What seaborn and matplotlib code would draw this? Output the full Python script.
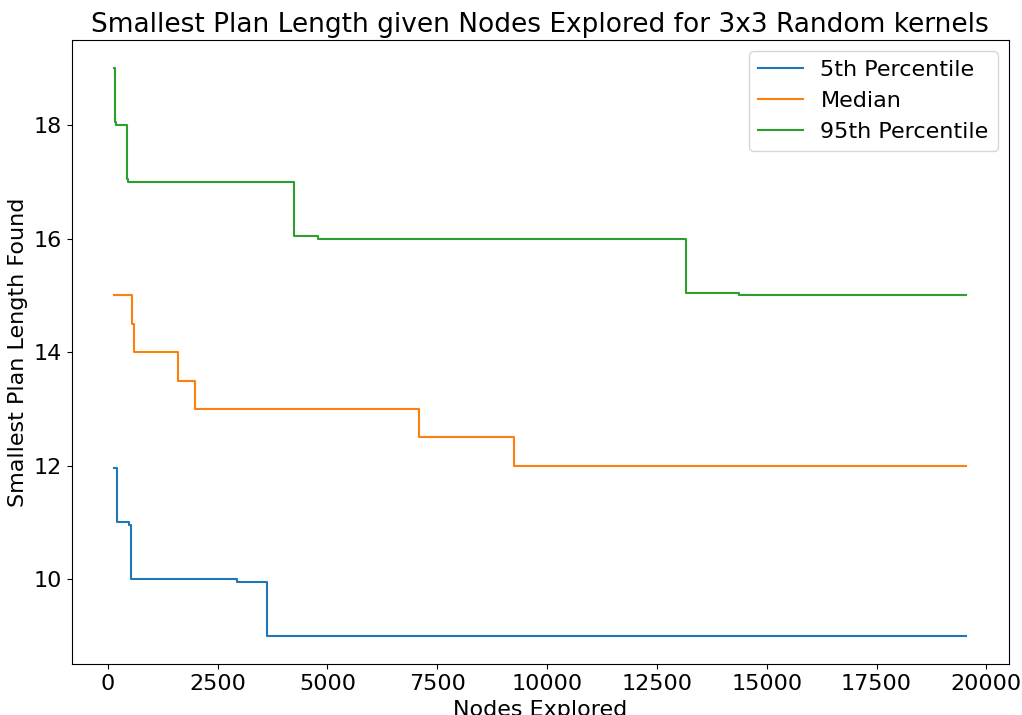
import matplotlib
matplotlib.use("Agg")
import matplotlib.pyplot as plt
import seaborn as sns
import pandas as pd

series_names = ["5th Percentile", "Median", "95th Percentile"]

p5_nodes = [145, 205, 493, 523, 2947, 3636, 19540]
p5_length = [11.95, 11.0, 10.95, 10.0, 9.95, 9.0, 9.0]

median_nodes = [145, 561, 591, 1598, 1977, 7091, 9257, 19540]
median_length = [15.0, 14.5, 14.0, 13.5, 13.0, 12.5, 12.0, 12.0]

p95_nodes = [150, 172, 190, 447, 470, 4235, 4795, 13166, 14364, 19540]
p95_length = [19.0, 18.05, 18.0, 17.05, 17.0, 16.05, 16.0, 15.05, 15.0, 15.0]

frames = []
for name, xs, ys in zip(series_names,
                        [p5_nodes, median_nodes, p95_nodes],
                        [p5_length, median_length, p95_length]):
    frames.append(pd.DataFrame({"nodes": xs, "length": ys, "series": name}))
df = pd.concat(frames, ignore_index=True)

plt.rcParams["font.size"] = 16
fig = plt.figure(figsize=(10.22, 7.15), dpi=100)
ax = fig.add_axes([0.070, 0.071, 0.917, 0.873])

palette = {"5th Percentile": "#1f77b4", "Median": "#ff7f0e", "95th Percentile": "#2ca02c"}
sns.lineplot(data=df, x="nodes", y="length", hue="series", hue_order=series_names,
             palette=palette, estimator=None, sort=False, drawstyle="steps-post",
             linewidth=1.5, ax=ax)

ax.set_title("Smallest Plan Length given Nodes Explored for 3x3 Random kernels", fontsize=19)
ax.set_xlabel("Nodes Explored", fontsize=16)
ax.set_ylabel("Smallest Plan Length Found", fontsize=16)
ax.set_xticks([0, 2500, 5000, 7500, 10000, 12500, 15000, 17500, 20000])
ax.set_yticks([10, 12, 14, 16, 18])
ax.tick_params(labelsize=16)
ax.legend(loc="upper right", fontsize=16)

fig.savefig("out.png", dpi=100)
